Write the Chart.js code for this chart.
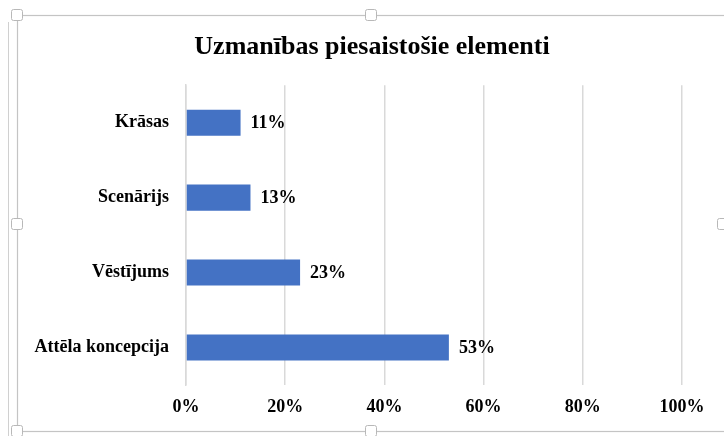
<!DOCTYPE html>
<html>
<head>
<meta charset="utf-8">
<script src="https://cdn.jsdelivr.net/npm/chart.js@4/dist/chart.umd.min.js"></script>
<style>
  html, body { margin: 0; padding: 0; background: #ffffff; }
  #wrap { width: 724px; height: 436px; position: relative; }
</style>
</head>
<body>
<div id="wrap"><canvas id="c" width="724" height="436"></canvas></div>
<script>
// Chart data
const categories = ['Krāsas', 'Scenārijs', 'Vēstījums', 'Attēla koncepcija'];
const shares = [0.11, 0.13, 0.23, 0.53];
const axisTicks = [0, 0.2, 0.4, 0.6, 0.8, 1.0];
const chartTitle = 'Uzmanības piesaistošie elementi';

const SERIF = '"Liberation Serif", "Times New Roman", serif';

// Value labels to the right of each bar
const valueLabels = {
  id: 'valueLabels',
  afterDatasetsDraw(chart) {
    const ctx = chart.ctx;
    const meta = chart.getDatasetMeta(0);
    ctx.save();
    ctx.font = 'bold 18px ' + SERIF;
    ctx.fillStyle = '#000000';
    ctx.textAlign = 'left';
    ctx.textBaseline = 'middle';
    meta.data.forEach((bar, i) => {
      const v = chart.data.datasets[0].data[i];
      ctx.fillText(Math.round(v * 100) + '%', bar.x + 10, bar.y + 1);
    });
    ctx.restore();
  }
};

// Centre the title over the frame rather than over the padded layout
const titleCentre = {
  id: 'titleCentre',
  afterLayout(chart) {
    const t = chart.titleBlock;
    if (t) { t.left = 62; }
  }
};

// Chart frame with selection handles
const frame = {
  id: 'frame',
  afterDraw(chart) {
    const ctx = chart.ctx;
    ctx.save();
    // sheet edge on the left
    ctx.strokeStyle = '#d0d0d0';
    ctx.lineWidth = 1;
    ctx.beginPath();
    ctx.moveTo(8.5, 22); ctx.lineTo(8.5, 436);
    ctx.stroke();
    // chart border
    ctx.strokeStyle = '#c4c4c4';
    ctx.lineWidth = 1.2;
    ctx.strokeRect(17.5, 15.5, 730, 416);
    // handles
    const handles = [[17, 15], [371, 15], [17, 224], [723, 224], [17, 431], [371, 431]];
    handles.forEach(([x, y]) => {
      ctx.fillStyle = '#ffffff';
      ctx.strokeStyle = '#b8b8b8';
      ctx.lineWidth = 1;
      ctx.beginPath();
      if (ctx.roundRect) ctx.roundRect(x - 5.5, y - 5.5, 11, 11, 2);
      else ctx.rect(x - 5.5, y - 5.5, 11, 11);
      ctx.fill();
      ctx.stroke();
    });
    ctx.restore();
  }
};

new Chart(document.getElementById('c'), {
  type: 'bar',
  data: {
    labels: categories,
    datasets: [{
      data: shares,
      backgroundColor: '#4472C4',
      borderWidth: 0,
      barPercentage: 0.58,
      categoryPercentage: 0.6
    }]
  },
  options: {
    indexAxis: 'y',
    responsive: false,
    animation: false,
    events: [],
    layout: { padding: { left: 17, right: 42, top: 0, bottom: 0 } },
    plugins: {
      legend: { display: false },
      tooltip: { enabled: false },
      title: {
        display: true,
        text: chartTitle,
        color: '#000000',
        font: { family: SERIF, size: 26, weight: 'bold', lineHeight: 1.2 },
        padding: { top: 32, bottom: 22 }
      }
    },
    scales: {
      x: {
        min: 0,
        max: 1,
        afterBuildTicks(scale) { scale.ticks = axisTicks.map(v => ({ value: v })); },
        afterFit(scale) { scale.height = 51; },
        border: { display: false },
        grid: { color: '#d9d9d9', lineWidth: 1.5, drawTicks: false },
        ticks: {
          padding: 12,
          color: '#000000',
          font: { family: SERIF, size: 18, weight: 'bold' },
          maxRotation: 0,
          callback: v => Math.round(v * 100) + '%'
        }
      },
      y: {
        afterFit(scale) { scale.width = 169; },
        border: { display: true, color: '#d9d9d9', width: 1.5 },
        grid: { display: false, drawTicks: false },
        ticks: {
          padding: 17,
          color: '#000000',
          font: { family: SERIF, size: 18, weight: 'bold' }
        }
      }
    }
  },
  plugins: [valueLabels, titleCentre, frame]
});
</script>
</body>
</html>
